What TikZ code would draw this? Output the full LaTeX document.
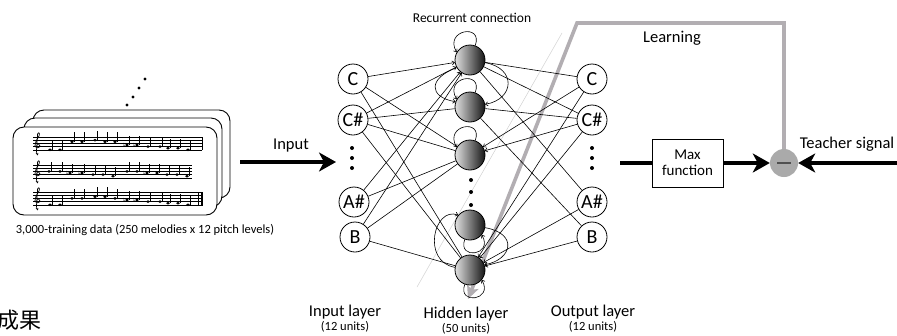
\documentclass[tikz,border=0pt]{standalone}
\usepackage{fontspec}
\setmainfont{Carlito}
\newfontfamily\cjk{Noto Sans CJK JP}
\newfontfamily\symfont{DejaVu Sans}
\usetikzlibrary{arrows.meta,calc}

\definecolor{lgray}{RGB}{178,174,178}
\definecolor{sgray}{RGB}{170,170,170}
\definecolor{mgray}{RGB}{80,80,80}

\tikzset{
  unit/.style={circle,draw,line width=0.8pt,fill=white,minimum size=30pt,inner sep=0pt,font=\fontsize{20}{20}\selectfont},
  hid/.style={circle,draw,line width=0.8pt,minimum size=30pt,inner sep=0pt,left color=white!88!black,right color=black!92},
  link/.style={line width=0.6pt},
  linkin/.style={line width=0.6pt,-{To[length=3pt,width=4.5pt]}},
  loop/.style={line width=0.6pt,-{To[length=3pt,width=4.5pt]}},
  big/.style={font=\fontsize{16.5}{18}\selectfont},
  small/.style={font=\fontsize{12.5}{13}\selectfont},
  fat/.style={line width=3.6pt},
  fathead/.style={fat,-{Stealth[length=17pt,width=19pt,inset=5pt]}},
  card/.style={draw,line width=0.9pt,fill=white,rounded corners=11pt},
  dot/.style={circle,fill=black,inner sep=0pt,minimum size=4pt},
}

% one five-line staff with clef and notes; #1 = x end, #2 = list of x/step
\newcommand{\drawstaff}[2]{%
  \foreach \k in {0,...,4} {\draw[line width=0.4pt] (33,\k*3.2) -- (#1,\k*3.2);}
  \draw[line width=0.7pt] (38,16) .. controls (39,18) and (36.5,18.5) .. (36.3,16.5)
     -- (37.6,-3) .. controls (38.5,-5.5) and (40.2,-4) .. (39,-1)
     .. controls (37,3) and (34.5,5) .. (35,8.5) .. controls (35.5,11.5) and (39.8,11.5) .. (39.8,8.5)
     .. controls (39.8,6) and (36.5,6) .. (37,8.8);
  \foreach \nx/\st in {#2} {
    \fill (\nx,12.8-\st*1.6) ellipse (1.9pt and 1.4pt);
    \draw[line width=0.4pt] (\nx+1.8,12.8-\st*1.6) -- ++(0,-9.5);
  }
}
\newcommand{\flatsign}[2]{\node[inner sep=0pt,font=\symfont\fontsize{6}{6}\selectfont] at (#1,#2) {♭};}

\begin{document}
\begin{tikzpicture}[x=1pt,y=-1pt]
\useasboundingbox (0,0) rectangle (897,335);
\fill[white] (0,0) rectangle (897,335);

% ---------- training data cards ----------
\draw[card] (33,110) rectangle (230,198);
\draw[card] (24,118) rectangle (222,207);
\draw[card] (13,127) rectangle (217,215);
\foreach \p in {(127,105),(133,97),(139,88),(145,79)} \fill \p circle (1.6pt);

\begin{scope}[shift={(0,137)}]
  \drawstaff{202}{50/0,60/0,72/5,82/5,95/6,105/5,115/5,127/3,137/3,148/2,160/2,168/1,178/1,188/0}
  \draw[line width=0.6pt] (202,0) -- (202,12.8);
  \flatsign{124}{8}\flatsign{134}{8}
\end{scope}
\begin{scope}[shift={(0,165)}]
  \drawstaff{192}{49/4,60/4,70/3,82/3,93/2,103/2,113/1,127/4,137/4,147/3,157/3,167/2,177/2,187/1}
  \flatsign{67}{8}\flatsign{79}{8}\flatsign{144}{8}
\end{scope}
\begin{scope}[shift={(0,192)}]
  \drawstaff{203}{50/0,60/0,72/4,82/4,95/5,105/5,115/4,127/3,137/3,148/2,160/2,168/1,178/1,188/0}
  \draw[line width=0.5pt] (198,0) -- (198,12.8);
  \draw[line width=1.8pt] (202,0) -- (202,12.8);
  \flatsign{124}{8}\flatsign{134}{8}
\end{scope}

\node[small] (datalabel) at (145,230) {3,000-training data (250 melodies x 12 pitch levels)};

% ---------- input arrow ----------
\coordinate (inA) at (240,162);
\coordinate (inB) at (336,162);
\draw[fathead] (inA) -- (inB);
\node[big] (inputlbl) at (291,146) {Input};

% ---------- learning signal path (behind the network) ----------
\node[circle,fill=sgray,minimum size=28pt,inner sep=0pt] (sub) at (784,163) {};
\coordinate (lcorner) at (577,23);
\coordinate (lend) at (468,299);
\draw[gray!35,line width=0.5pt] (417,287) -- (562,33);
\draw[lgray,line width=3.6pt,-{Stealth[length=13pt,width=12pt,inset=3pt]}] (sub.north) |- (lcorner) -- (lend);
\node[big] (learnlbl) at (672,38) {Learning};

% ---------- layers ----------
\node[unit] (iC)  at (353,79)  {C};
\node[unit] (iCs) at (353,120) {C\#};
\node[unit] (iAs) at (354,202) {A\#};
\node[unit] (iB)  at (355,237) {B};
\node[dot] (id1) at (352,148) {};
\node[dot] (id2) at (352,158) {};
\node[dot] (id3) at (352,168) {};

\node[hid] (h1) at (470,60)  {};
\node[hid] (h2) at (470,107) {};
\node[hid] (h3) at (470,155) {};
\node[hid] (h4) at (470,225) {};
\node[hid] (h5) at (470,270) {};
\node[dot] (hd1) at (471,180) {};
\node[dot] (hd2) at (471,192) {};
\node[dot] (hd3) at (471,205) {};

\node[unit] (oC)  at (592,79)  {C};
\node[unit] (oCs) at (592,120) {C\#};
\node[unit] (oAs) at (592,202) {A\#};
\node[unit] (oB)  at (592,237) {B};
\node[dot] (od1) at (592,148) {};
\node[dot] (od2) at (592,158) {};
\node[dot] (od3) at (592,168) {};

% input -> hidden
\foreach \i/\h in {iC/h1,iCs/h1,iAs/h1,iB/h1}
  \draw[linkin] (\i) -- (\h);
\foreach \i/\h in {iC/h3,iC/h5,iCs/h2,iCs/h3,iCs/h5,iAs/h3,iB/h3,iB/h5}
  \draw[link] (\i) -- (\h);
% hidden <-> output
\foreach \h/\o in {h1/oC,h1/oCs,h1/oAs,h2/oCs,h2/oB}
  \draw[link] (\h) -- (\o);
\foreach \o/\h in {oC/h3,oCs/h3,oC/h5,oCs/h5,oAs/h5,oB/h5}
  \draw[linkin] (\o) -- (\h);

% ---------- recurrent connections ----------
\draw[loop] (h1.70) .. controls +(70:24pt) and +(120:26pt) .. (h1.150);
\draw[loop] (h2.70) .. controls +(70:24pt) and +(120:26pt) .. (h2.150);
\draw[loop] (h3.70) .. controls +(70:24pt) and +(120:26pt) .. (h3.150);
\draw[loop] (h1.-10) .. controls +(-10:32pt) and +(10:30pt) .. (h2.10);
\draw[loop] (h1.210) .. controls +(200:30pt) and +(170:28pt) .. (h2.160);
\draw[loop] (h4.-110) .. controls +(-110:22pt) and +(-60:24pt) .. (h4.-40);
\draw[loop] (h5.-110) .. controls +(-110:22pt) and +(-60:24pt) .. (h5.-40);
\draw[loop] (h5.170) .. controls +(170:34pt) and +(160:26pt) .. (h4.140);
\draw[loop] (h4.-10) .. controls +(-10:34pt) and +(10:28pt) .. (h5.20);

% ---------- layer labels ----------
\node[font=\fontsize{13.5}{14}\selectfont] (reclbl) at (472,18) {Recurrent connection};
\node[big] (inlayer) at (345,312) {Input layer};
\node[small] (inunits) at (345,327) {(12 units)};
\node[big] (hidlayer) at (466,314) {Hidden layer};
\node[small] (hidunits) at (466,328.5) {(50 units)};
\node[big] (outlayer) at (593,312) {Output layer};
\node[small] (outunits) at (593,327) {(12 units)};

% ---------- output stage ----------
\node[draw,line width=0.8pt,minimum width=71pt,minimum height=48pt,align=center,
      font=\fontsize{15}{16}\selectfont] (maxf) at (687.5,163) {Max\\function};
\coordinate (outS) at (620,163);
\draw[fat] (outS) -- (maxf.west);
\draw[fathead] (maxf.east) -- (sub.west);
\coordinate (teach) at (897,163);
\draw[fathead] (teach) -- (sub.east);
\draw[mgray,line width=1.4pt] ($(sub.center)+(-7,0)$) -- ($(sub.center)+(7,0)$);
\node[big] (teachlbl) at (847,144) {Teacher signal};

% ---------- heading fragment ----------
\node[anchor=west,inner sep=0pt,font=\cjk\fontsize{22}{22}\selectfont] (heading) at (-3,320) {成果};
\end{tikzpicture}
\end{document}
